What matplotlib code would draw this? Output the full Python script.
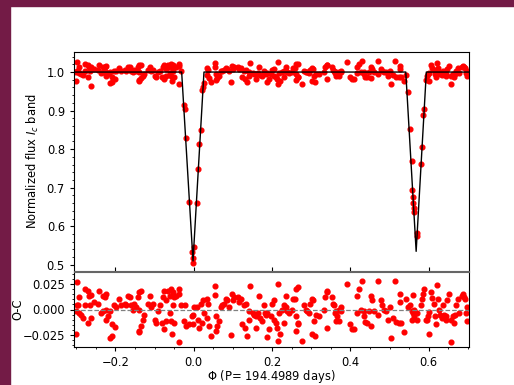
import numpy as np
import matplotlib
matplotlib.use("Agg")
import matplotlib.pyplot as plt
from matplotlib.patches import Rectangle
from matplotlib.ticker import AutoMinorLocator

# orbital phase of each observation
phase = [
    # before primary eclipse
    -0.302, -0.300, -0.299, -0.299, -0.296, -0.294, -0.292, -0.288, -0.283, -0.279,
    -0.279, -0.271, -0.271, -0.268, -0.265, -0.262, -0.262, -0.254, -0.245, -0.241,
    -0.237, -0.232, -0.232, -0.228, -0.224, -0.224, -0.224, -0.220, -0.215, -0.214,
    -0.209, -0.209, -0.203, -0.200, -0.198, -0.190, -0.186, -0.177, -0.173, -0.168,
    -0.164, -0.160, -0.156, -0.152, -0.147, -0.143, -0.140, -0.139, -0.139, -0.139,
    -0.135, -0.135, -0.130, -0.126, -0.118, -0.113, -0.109, -0.105, -0.100, -0.096,
    -0.092, -0.086, -0.081, -0.079, -0.077, -0.075, -0.071, -0.071, -0.066, -0.062,
    -0.062, -0.058, -0.058, -0.055, -0.054, -0.054, -0.050, -0.050, -0.045, -0.038,
    -0.037, -0.037, -0.032,
    # primary eclipse
    -0.025, -0.023, -0.019, -0.012, -0.005, -0.002, -0.001, 0.001, 0.008, 0.011,
    0.014, 0.018, 0.022, 0.024, 0.025,
    # between eclipses
    0.035, 0.0375, 0.035, 0.039, 0.043, 0.0545, 0.0545, 0.056, 0.060, 0.058,
    0.065, 0.069, 0.073, 0.077, 0.082, 0.086, 0.090, 0.097, 0.099, 0.096,
    0.103, 0.112, 0.116, 0.120, 0.123, 0.129, 0.133, 0.131, 0.137, 0.140,
    0.141, 0.143, 0.150, 0.154, 0.158, 0.163, 0.158, 0.167, 0.169, 0.175,
    0.180, 0.182, 0.184, 0.188, 0.188, 0.192, 0.197, 0.201, 0.205, 0.205,
    0.209, 0.214, 0.212, 0.214, 0.218, 0.220, 0.226, 0.231, 0.231, 0.235,
    0.235, 0.239, 0.243, 0.250, 0.254, 0.259, 0.261, 0.265, 0.261, 0.265,
    0.267, 0.261, 0.276, 0.282, 0.286, 0.290, 0.295, 0.296, 0.301, 0.305,
    0.307, 0.312, 0.303, 0.310, 0.320, 0.333, 0.335, 0.339, 0.341, 0.341,
    0.353, 0.356, 0.358, 0.361, 0.363, 0.367, 0.364, 0.371,
    0.370, 0.375, 0.377, 0.392, 0.400, 0.404, 0.409, 0.417, 0.421, 0.417,
    0.430, 0.428, 0.434, 0.434, 0.438, 0.443, 0.447, 0.453, 0.456, 0.453,
    0.460, 0.471, 0.471, 0.477, 0.481, 0.485, 0.490, 0.496, 0.502, 0.505,
    0.509, 0.515, 0.517, 0.523, 0.526, 0.528, 0.530, 0.536,
    # secondary eclipse
    0.541, 0.546, 0.553, 0.557, 0.5585, 0.560, 0.561, 0.5628, 0.5635, 0.5695,
    0.5705, 0.5815, 0.584, 0.5867, 0.5875, 0.5926,
    # after secondary eclipse
    0.596, 0.599, 0.601, 0.602, 0.605, 0.609, 0.613, 0.617, 0.619, 0.622,
    0.624, 0.626, 0.630, 0.633, 0.636, 0.639, 0.643, 0.645, 0.647, 0.651,
    0.656, 0.658, 0.662, 0.664, 0.667, 0.670, 0.675, 0.678, 0.684, 0.687,
    0.689, 0.692, 0.695, 0.698, 0.699,
]

# normalized Ic flux
flux = [
    0.976, 0.999, 1.027, 1.004, 1.004, 0.997, 1.012, 0.995, 0.992, 1.020,
    1.004, 1.018, 0.987, 1.013, 1.004, 1.014, 0.965, 1.007, 1.005, 1.018,
    0.997, 1.013, 0.999, 1.012, 1.015, 1.000, 0.990, 0.994, 0.999, 0.972,
    0.986, 0.974, 1.004, 0.983, 1.002, 1.010, 1.004, 1.005, 1.004, 1.013,
    1.012, 1.004, 1.000, 1.005, 1.002, 1.012, 0.978, 1.017, 1.000, 0.979,
    1.018, 0.984, 0.990, 0.995, 1.005, 1.013, 1.002, 1.005, 0.990, 0.987,
    0.999, 1.004, 0.987, 1.012, 0.981, 1.018, 1.009, 0.989, 1.018, 1.013,
    0.997, 1.020, 0.989, 0.976, 1.017, 1.004, 1.012, 0.987, 1.013, 1.020,
    1.015, 0.968, 1.004,
    0.915, 0.903, 0.830, 0.664, 0.532, 0.517, 0.506, 0.547, 0.661, 0.749,
    0.813, 0.850, 0.953, 0.962, 0.972,
    1.010, 1.005, 0.992, 0.984, 0.974, 1.023, 1.014, 0.994, 0.984, 0.979,
    0.989, 1.002, 1.004, 1.005, 1.010, 1.009, 1.002, 1.015, 1.009, 0.975,
    1.012, 1.012, 1.007, 1.010, 0.986, 1.004, 1.005, 0.982, 0.974, 0.990,
    0.999, 1.023, 0.997, 0.995, 0.994, 0.997, 0.982, 1.013, 0.992, 0.989,
    1.004, 0.997, 0.995, 0.997, 0.973, 0.981, 0.994, 1.005, 1.009, 0.990,
    0.987, 1.025, 0.982, 0.969, 0.997, 0.976, 1.000, 0.987, 1.004, 1.013,
    1.002, 0.999, 0.997, 1.000, 1.010, 1.010, 1.020, 1.022, 0.994, 0.986,
    0.987, 0.979, 0.969, 1.004, 1.000, 0.999, 0.997, 1.005, 1.010, 1.009,
    0.989, 0.995, 0.976, 0.974, 0.994, 1.000, 1.012, 1.018, 1.017, 0.982,
    1.012, 1.005, 1.004, 0.997, 0.999, 0.994, 0.989, 1.000,
    0.989, 1.002, 0.999, 1.025, 0.986, 0.981, 0.981, 1.013, 1.020, 0.997,
    1.028, 1.000, 0.999, 0.994, 0.988, 0.987, 0.999, 1.013, 1.009, 0.984,
    0.999, 1.028, 0.995, 1.009, 1.004, 1.000, 0.999, 0.990, 1.002, 0.970,
    0.992, 1.028, 0.988, 0.987, 1.015, 1.007, 0.987, 0.978,
    0.992, 0.949, 0.852, 0.769, 0.694, 0.677, 0.660, 0.647, 0.638, 0.576,
    0.582, 0.761, 0.806, 0.889, 0.903, 0.979,
    0.990, 0.994, 0.998, 0.976, 1.017, 1.011, 1.005, 0.994, 0.986, 1.024,
    1.010, 1.000, 0.995, 0.992, 1.004, 0.995, 0.994, 0.990, 1.009, 1.015,
    0.968, 0.990, 0.994, 0.987, 0.995, 1.004, 1.010, 0.997, 1.013, 1.015,
    1.012, 1.010, 0.997, 0.989, 1.002,
]

# observed minus computed
oc = [
    -0.024, -0.001, 0.027, 0.004, 0.004, -0.003, 0.012, -0.005, -0.008, 0.020,
    0.004, 0.018, -0.013, 0.013, 0.004, 0.014, -0.008, 0.007, 0.005, 0.018,
    -0.003, 0.013, -0.001, 0.012, 0.015, 0.000, -0.010, -0.006, -0.001, -0.028,
    -0.014, -0.026, 0.004, -0.017, 0.002, 0.010, 0.004, 0.005, 0.004, 0.013,
    0.012, 0.004, 0.000, 0.005, 0.002, 0.012, -0.022, 0.017, 0.000, -0.021,
    0.018, -0.016, -0.010, -0.005, 0.005, 0.013, 0.002, 0.005, -0.010, -0.013,
    -0.001, 0.004, -0.013, 0.012, -0.019, 0.018, 0.009, -0.011, 0.018, 0.013,
    -0.003, 0.020, -0.011, -0.024, 0.017, 0.004, 0.012, -0.013, 0.013, 0.020,
    0.015, -0.032, 0.004,
    -0.011, 0.004, -0.016, -0.014, -0.006, -0.014, -0.005, 0.002, 0.002, -0.010,
    -0.018, 0.005, -0.013, 0.009, -0.003,
    0.010, 0.005, -0.008, -0.016, -0.026, 0.023, 0.014, -0.006, -0.016, -0.021,
    -0.011, 0.002, 0.004, 0.005, 0.010, 0.009, 0.002, 0.015, 0.009, -0.025,
    0.012, 0.012, 0.007, 0.010, -0.014, 0.004, 0.005, -0.018, -0.026, -0.010,
    -0.001, 0.023, -0.003, -0.005, -0.006, -0.003, -0.018, 0.013, -0.008, -0.011,
    0.004, -0.003, -0.005, -0.003, -0.027, -0.019, -0.006, 0.005, 0.009, -0.010,
    -0.013, 0.025, -0.018, -0.031, -0.003, -0.024, 0.000, -0.013, 0.004, 0.013,
    0.002, -0.001, -0.003, 0.000, 0.010, 0.010, 0.020, 0.022, -0.006, -0.014,
    -0.013, -0.021, -0.031, 0.004, 0.000, -0.001, -0.003, 0.005, 0.010, 0.009,
    -0.011, -0.005, -0.024, -0.026, -0.006, 0.000, 0.012, 0.018, 0.017, -0.018,
    0.012, 0.005, 0.004, -0.003, -0.001, -0.006, -0.011, 0.000,
    -0.011, 0.002, -0.001, 0.025, -0.014, -0.019, -0.019, 0.013, 0.020, -0.003,
    0.028, 0.000, -0.001, -0.006, -0.012, -0.013, -0.001, 0.013, 0.009, -0.016,
    -0.001, 0.028, -0.005, 0.009, 0.004, 0.000, -0.001, -0.010, 0.002, -0.028,
    -0.008, 0.028, -0.012, -0.013, 0.015, 0.007, -0.013, -0.022,
    0.010, 0.002, 0.004, -0.010, -0.001, -0.003, 0.014, -0.006, 0.000, -0.010,
    -0.003, 0.004, 0.010, 0.015, 0.020, -0.010,
    -0.010, -0.006, -0.002, -0.024, 0.017, 0.011, 0.005, -0.006, -0.014, 0.024,
    0.010, 0.000, -0.005, -0.008, 0.004, -0.005, -0.006, -0.010, 0.009, 0.015,
    -0.032, -0.010, -0.006, -0.013, -0.005, 0.004, 0.010, -0.003, 0.013, 0.015,
    0.012, 0.010, -0.003, -0.011, 0.002,
]

# light curve model
model_phase = [-0.306, -0.031, -0.002, 0.026, 0.5415, 0.568, 0.594, 0.703]
model_flux = [1.0, 1.0, 0.51, 1.0, 1.0, 0.535, 1.0, 1.0]


def main():
    # the original looks like a bigger figure scaled down
    plt.rcParams['font.size'] = 8.3
    plt.rcParams['xtick.major.size'] = 3
    plt.rcParams['ytick.major.size'] = 3
    plt.rcParams['xtick.minor.size'] = 1.7
    plt.rcParams['ytick.minor.size'] = 1.7
    plt.rcParams['axes.linewidth'] = 0.8

    fig = plt.figure(figsize=(5.14, 3.85), dpi=100)

    # frame of the page around the figure
    border = '#731b46'
    fig.patches.append(Rectangle((0, 0), 10 / 514, 1, transform=fig.transFigure,
                                 color=border, zorder=0))
    fig.patches.append(Rectangle((0, 1 - 6 / 385), 1, 6 / 385, transform=fig.transFigure,
                                 color=border, zorder=0))

    ax1 = fig.add_axes([74 / 514, 1 - 271 / 385, 395 / 514, 219 / 385])
    ax2 = fig.add_axes([74 / 514, 1 - 347 / 385, 395 / 514, 75 / 385])

    # upper panel
    ax1.plot(phase, flux, 'o', color='red', ms=3.4, zorder=2)
    ax1.plot(model_phase, model_flux, '-', color='black', lw=1.0, zorder=3)
    ax1.set_xlim(-0.306, 0.703)
    ax1.set_ylim(0.484, 1.052)
    ax1.set_ylabel(r'Normalized flux $I_c$ band')
    ax1.yaxis.set_label_coords(-0.083, 0.5)
    ax1.yaxis.set_minor_locator(AutoMinorLocator())
    ax1.tick_params(axis='x', direction='in', labelbottom=False)
    ax1.spines['bottom'].set_color('#666666')

    # lower panel
    ax2.plot(phase, oc, 'o', color='red', ms=3.4)
    ax2.axhline(0.0, color='gray', ls='--', lw=0.9)
    ax2.set_xlim(-0.306, 0.703)
    ax2.set_ylim(-0.037, 0.037)
    ax2.set_yticks([-0.025, 0.0, 0.025])
    ax2.set_ylabel('O-C')
    ax2.yaxis.set_label_coords(-0.125, 0.5)
    ax2.set_xlabel(r'$\Phi$ (P= 194.4989 days)')
    ax2.xaxis.set_label_coords(0.5, -0.285)
    ax2.xaxis.set_minor_locator(AutoMinorLocator())
    ax2.yaxis.set_minor_locator(AutoMinorLocator())
    ax2.spines['top'].set_color('#666666')

    fig.savefig('out.png', dpi=100)


if __name__ == '__main__':
    main()
